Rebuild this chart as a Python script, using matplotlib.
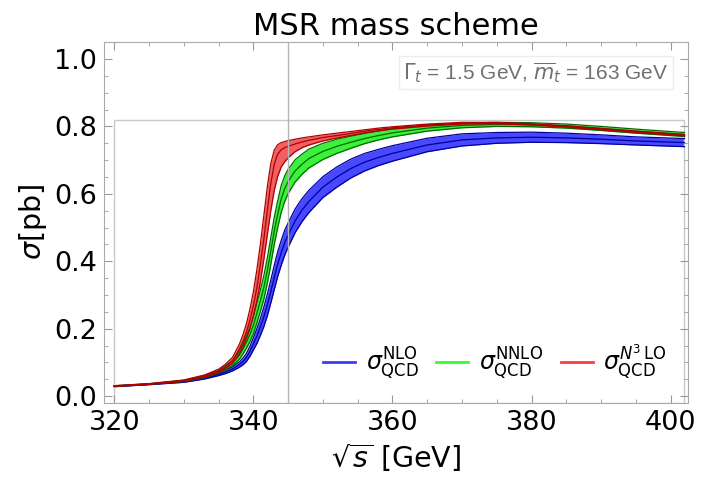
import numpy as np
import matplotlib
matplotlib.use("Agg")
import matplotlib.pyplot as plt
from matplotlib.patches import Rectangle

# sqrt(s) grid [GeV]
energy = [320, 325, 330, 333, 335, 336, 337, 338, 338.5, 339, 339.5, 340, 340.5, 341, 341.5,
          342, 342.5, 343, 343.5, 344, 344.5, 345, 346, 347, 348, 350, 352, 354, 356, 358,
          360, 365, 370, 375, 380, 385, 390, 395, 402]

# NLO (blue): central value and half band width
nlo_mid = [0.029, 0.035, 0.043, 0.054, 0.065, 0.072, 0.081, 0.094, 0.103, 0.115, 0.133, 0.155, 0.178, 0.205, 0.235,
           0.270, 0.310, 0.352, 0.392, 0.425, 0.455, 0.478, 0.520, 0.552, 0.578, 0.620, 0.650, 0.675, 0.694, 0.708,
           0.720, 0.745, 0.760, 0.766, 0.768, 0.766, 0.762, 0.757, 0.752]
nlo_hw = [0.001, 0.001, 0.002, 0.003, 0.004, 0.005, 0.006, 0.008, 0.010, 0.012, 0.015, 0.018, 0.022, 0.025, 0.029,
          0.032, 0.034, 0.036, 0.037, 0.037, 0.037, 0.036, 0.035, 0.034, 0.033, 0.031, 0.030, 0.028, 0.026, 0.024,
          0.023, 0.020, 0.018, 0.016, 0.015, 0.014, 0.013, 0.012, 0.012]

# NNLO (green)
nnlo_mid = [0.030, 0.036, 0.045, 0.058, 0.072, 0.084, 0.098, 0.122, 0.140, 0.160, 0.183, 0.210, 0.246, 0.283, 0.322,
            0.372, 0.430, 0.490, 0.540, 0.585, 0.615, 0.637, 0.668, 0.688, 0.705, 0.726, 0.741, 0.753, 0.764, 0.773,
            0.781, 0.795, 0.803, 0.806, 0.805, 0.801, 0.794, 0.786, 0.776]
nnlo_hw = [0.001, 0.001, 0.002, 0.003, 0.004, 0.006, 0.008, 0.012, 0.015, 0.018, 0.021, 0.025, 0.029, 0.032, 0.035,
           0.038, 0.040, 0.040, 0.040, 0.040, 0.038, 0.036, 0.033, 0.030, 0.028, 0.024, 0.021, 0.018, 0.015, 0.013,
           0.012, 0.009, 0.007, 0.006, 0.006, 0.006, 0.006, 0.006, 0.006]

# N3LO (red): lower edge, central line, upper edge
n3lo_lo = [0.029, 0.035, 0.044, 0.057, 0.070, 0.082, 0.097, 0.127, 0.146, 0.170, 0.200, 0.238, 0.283, 0.338, 0.405,
           0.478, 0.550, 0.610, 0.652, 0.680, 0.695, 0.707, 0.725, 0.737, 0.745, 0.757, 0.766, 0.773, 0.781, 0.787,
           0.792, 0.801, 0.807, 0.808, 0.804, 0.798, 0.790, 0.782, 0.772]
n3lo_mid = [0.030, 0.036, 0.046, 0.060, 0.075, 0.088, 0.105, 0.140, 0.162, 0.190, 0.225, 0.268, 0.322, 0.390, 0.465,
            0.550, 0.630, 0.688, 0.718, 0.731, 0.737, 0.741, 0.748, 0.754, 0.759, 0.767, 0.773, 0.779, 0.786, 0.791,
            0.796, 0.804, 0.810, 0.810, 0.806, 0.800, 0.792, 0.784, 0.774]
n3lo_hi = [0.031, 0.037, 0.048, 0.063, 0.080, 0.095, 0.115, 0.155, 0.182, 0.215, 0.258, 0.310, 0.375, 0.450, 0.535,
           0.620, 0.690, 0.730, 0.746, 0.752, 0.755, 0.758, 0.762, 0.766, 0.769, 0.775, 0.780, 0.785, 0.790, 0.795,
           0.799, 0.807, 0.812, 0.812, 0.808, 0.802, 0.794, 0.786, 0.776]

x = np.array(energy)
nlo_mid = np.array(nlo_mid); nlo_hw = np.array(nlo_hw)
nnlo_mid = np.array(nnlo_mid); nnlo_hw = np.array(nnlo_hw)

fig = plt.figure(figsize=(7.02, 4.86), dpi=100)
ax = fig.add_axes([0.148, 0.171, 0.832, 0.743])

def band(lo, mid, hi, fill, line):
    ax.fill_between(x, lo, hi, color=fill, lw=0)
    for y in (lo, mid, hi):
        ax.plot(x, y, color=line, lw=0.9)

band(nlo_mid - nlo_hw, nlo_mid, nlo_mid + nlo_hw, '#4848ff', '#00009a')
band(nnlo_mid - nnlo_hw, nnlo_mid, nnlo_mid + nnlo_hw, '#3cf03c', '#006a00')
band(n3lo_lo, n3lo_mid, n3lo_hi, '#f06060', '#b00000')

# reference lines
ax.axvline(345, color='#b4b4b4', lw=1)
ax.add_patch(Rectangle((320, -0.02), 82, 0.838, fill=False, ec='#c8c8c8', lw=1))

# legend proxies
ax.plot([], [], color='#3c3cff', lw=2, label=r'$\sigma^{\rm NLO}_{\rm QCD}$')
ax.plot([], [], color='#30ff30', lw=2, label=r'$\sigma^{\rm NNLO}_{\rm QCD}$')
ax.plot([], [], color='#ff3c3c', lw=2, label=r'$\sigma^{N^3\,{\rm LO}}_{\rm QCD}$')
handles, labels = ax.get_legend_handles_labels()
ax.legend(handles[-3:], labels[-3:], ncol=3, frameon=False, fontsize=17,
          loc='lower right', bbox_to_anchor=(1.0, 0.0), handlelength=1.35,
          handletextpad=0.45, columnspacing=0.75)

ax.text(399.7, 0.959, r'$\Gamma_t$ = 1.5 GeV, $\overline{m}_t$ = 163 GeV',
        ha='right', va='center', fontsize=15, color='#707070', family='Liberation Sans',
        bbox=dict(fc='white', ec='#ececec', lw=1, pad=3))

ax.set_xlim(318.5, 402.5)
ax.set_ylim(-0.02, 1.051)
ax.set_xticks([320, 340, 360, 380, 400])
ax.set_xticks(np.arange(320, 405, 5), minor=True)
ax.set_yticks([0.0, 0.2, 0.4, 0.6, 0.8, 1.0])
ax.set_yticks(np.arange(0, 1.05, 0.05), minor=True)
ax.set_yticklabels(['0.0', '0.2', '0.4', '0.6', '0.8', '1.0'])
ax.tick_params(which='both', direction='in', top=True, right=True, color='#999999',
               labelsize=19.5, pad=5)
ax.tick_params(which='major', length=6)
ax.tick_params(which='minor', length=3)
for s in ax.spines.values():
    s.set_color('#aaaaaa')

ax.set_title('MSR mass scheme', fontsize=22, pad=5)
ax.set_xlabel(r'$\sqrt{s}$ [GeV]', fontsize=20.5)
ax.set_ylabel(r'$\sigma$[pb]', fontsize=20.5)

fig.savefig('out.png', dpi=100)
